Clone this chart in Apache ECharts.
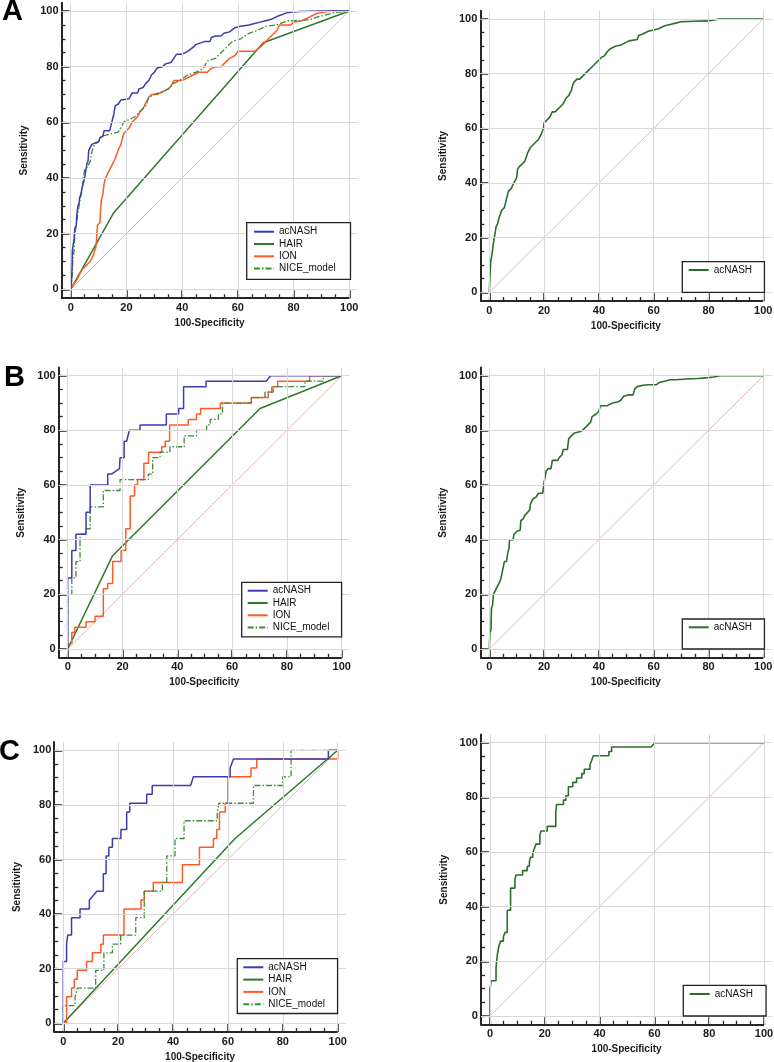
<!DOCTYPE html>
<html><head><meta charset="utf-8">
<script src="https://cdn.jsdelivr.net/npm/echarts@6/dist/echarts.min.js"></script>
<style>html,body{margin:0;padding:0;background:#fff}#c{width:774px;height:1062px}</style>
</head><body><div id="c"></div>
<script>
// ---------- data ----------
const tickValues = [0, 20, 40, 60, 80, 100];
const minorTickValues = [0,5,10,15,20,25,30,35,40,45,50,55,60,65,70,75,80,85,90,95,100];
const gridLineValues = [0, 20, 40, 60, 80, 100];
const leftLegendNames = ['acNASH', 'HAIR', 'ION', 'NICE_model'];
const rightLegendName = 'acNASH';
const panelLetters = ['A', 'B', 'C'];
const diagonal = [[0, 0], [100, 100]];

const A_L_acNASH = [[0,0],[0.3,3],[0.5,8],[0.6,14],[1,14],[1.2,18],[1.5,22],[2,23],[2.2,27],[2.6,30],[3,31],[3.2,33],[3.6,34],[4,36],[4.5,38],[5,40],[5.5,40],[5.8,45],[6.2,46],[6.5,50],[7,51],[7.5,52],[8.5,52.5],[9,53],[10,53],[10.5,54.5],[11.5,55],[12,57],[14,57],[14.5,59],[15,61],[15.5,63],[16,66],[17,66.5],[18,68],[21,68.5],[22,70.5],[24,70.5],[24.5,72],[26,72.5],[27,74],[28,75],[29,77],[30,78],[31,79.5],[33,80],[34,81],[36,81.5],[37,83],[38,84.5],[40,84.5],[42,85.5],[44,87],[45,88],[48,89],[50,89],[50.5,90.5],[52,91],[54,91],[55,92],[57,92.5],[59,94],[61,94.5],[64,95],[66,95.5],[68,96],[70,96.5],[72,97],[74,98],[78,99.5],[82,99.8],[90,100],[100,100]];
const A_L_HAIR = [[0,0],[15.3,27.3],[69.1,88.6],[100,100]];
const A_L_ION = [[0,0],[1,2],[2,3],[3,5],[4,7],[5,8],[6,9],[7,10],[8,12],[9,15],[9.3,18],[9.6,23],[10.5,24],[10.7,28],[11,32],[11.5,34],[12,38],[12.5,40],[13,41],[14,43],[15,45],[16,47],[17,50],[18,52],[19,56],[20,57],[21,58],[22,60],[24,62],[25,64],[26,65],[27,67],[28,69],[29,70],[31,70],[33,71],[35,72],[36,73],[37,75],[40,75],[42,76],[44,77],[46,78],[49,78],[50,79],[52,80],[54,80],[55,81],[57,83],[59,84],[60,85.5],[66,85.5],[68,87],[70,89],[71,90],[72,91],[74,93],[75,95],[79,95],[80,96],[83,96.5],[86,98],[88,99],[90,99.5],[94,100],[100,100]];
const A_L_NICE = [[0,0],[0.5,5],[0.8,11],[1.2,14],[1.5,20],[2,23],[2.5,27],[3,30],[3.5,33],[4,35],[4.5,40],[5,43],[6,44],[7,46],[7.5,49],[8.5,52],[10,53],[11,55],[13,55.5],[15,56],[17,56.5],[18,58],[19,60],[21,61],[23,62],[25,64],[27,66],[28,69],[30,70],[33,71],[35,72],[37,74],[39,75],[42,77],[45,78],[47,79],[48,80],[49,82],[52,83],[54,85],[56,87],[58,89],[61,90],[64,92],[67,93],[70,94.5],[74,95],[78,96.5],[82,96.5],[86,97],[89,98],[93,99],[95,99.5],[100,100]];

const A_R_acNASH = [[0,0],[0.2,5],[0.5,11],[1,14],[1.5,18],[2,21],[2.5,24],[3,25],[3.5,27],[4.5,30],[5.5,31],[6,33],[6.5,35],[7,37],[8,38],[9,40],[10,42],[10.3,45],[11,46],[12,47],[13,48],[14,51],[15,53],[16,54],[17,55],[18,56],[19,58],[19.8,60],[20,62],[21,63],[22,64],[23,66],[24,66],[25,67],[26,68],[27,69],[28,71],[29,72],[30,74],[30.5,76],[31,77],[32,78],[33,78],[34,79],[35,80],[36,81],[37,82],[38,83],[39,84],[40,85],[41,86],[42,86.5],[43,88],[44,89],[46,90],[48,90.5],[49,91],[51,92],[54,92.5],[54.5,94],[56,94.5],[58,95.5],[60,96],[62,96.5],[64,97.5],[66,98],[68,98.5],[70,99],[75,99.2],[80,99.3],[84,100],[100,100]];

const B_L_acNASH = [[0,0],[0,26],[1.5,26],[1.5,36],[3,36],[3,42],[6.7,42],[6.7,50],[8.2,50],[8.2,60],[14.6,60],[14.6,64],[16,64],[18.9,66],[19.1,66],[19.1,70],[20.6,70],[20.6,76],[21.5,76],[22.5,80],[26.4,80],[26.4,82],[36,82],[36,86],[40.5,86],[40.5,88],[42.3,88],[42.3,96],[50.5,96],[50.5,98],[72.5,98],[74,100],[100,100]];
const B_L_HAIR = [[0,0],[16.3,34],[70.2,88],[100,100]];
const B_L_ION = [[0,0],[0,2],[1.5,2],[1.5,6],[2.6,6],[2.6,8],[6.7,8],[6.7,10],[10,10],[10,12],[13,12],[13,22],[14.6,22],[14.6,24],[16.4,24],[16.4,32],[19.5,32],[19.5,36],[21.2,36],[21.2,44],[22.8,44],[22.8,56],[24.4,56],[24.4,60],[25.5,60],[25.5,62],[27.8,62],[27.8,68],[29.5,68],[29.5,72],[34.3,72],[34.3,74],[35.6,74],[35.6,76],[37.2,76],[37.2,82],[44,82],[44,84],[47,84],[47,86],[48.5,86],[48.5,88],[55.7,88],[55.7,90],[67,90],[67,92],[73.2,92],[73.2,94],[74.5,94],[74.5,96],[76.6,96],[76.6,98],[88.3,98],[88.3,100],[100,100]];
const B_L_NICE = [[0,0],[0,20],[1.5,20],[1.5,26],[3,26],[3,32],[4.5,32],[4.5,42],[6.7,42],[6.7,44],[8.2,44],[8.2,52],[13,52],[13,58],[19.1,58],[19.1,62],[29.4,62],[29.4,64],[31,64],[31,70],[33.7,70],[33.7,72],[37.3,72],[37.3,74],[42.5,74],[42.5,78],[47,78],[47,80],[50.7,80],[50.7,82],[52,82],[52,84],[55,84],[55,86],[56.5,86],[56.5,90],[67,90],[67,92],[72,92],[72,94],[75,94],[75,96],[86.6,96],[86.6,98],[93.3,98],[93.3,100],[100,100]];

const B_R_acNASH = [[0,0],[0.2,6],[0.6,7],[0.8,15],[1.2,16],[1.5,20],[2,21],[2.5,22],[3,23],[3.5,24],[4,25],[4.5,27],[5.2,27],[5.5,32],[6.3,32],[6.7,35],[7.2,37],[7.4,40],[8.7,40],[9,42],[10,43],[11.3,43.5],[11.5,47],[12.3,47.5],[13,49],[14,50],[14.8,51],[15,53],[16,55],[17,55.5],[18,57],[19.5,57],[20,61],[20.4,63],[20.7,65],[21.5,66],[22.5,66],[23,69],[25,69],[25.5,70],[26.5,71],[27,73],[28.5,73],[29,77],[30,78],[31,79],[33,79.5],[34,80],[35,81],[36,82],[37,83],[37.5,85],[39,86],[40,87],[40.5,89],[43,89],[44,89.5],[45,90],[47,90.5],[48,91],[49,92.5],[51,93],[52.5,93],[53,95],[54,96],[56,96.5],[58,96.7],[61,96.7],[62,97.5],[64,98],[66,98.5],[68,98.5],[72,98.8],[76,99],[80,99.3],[82,99.5],[84,100],[100,100]];

const C_L_acNASH = [[0,0],[0,22.6],[1.2,22.6],[1.2,29],[1.6,29],[1.6,32.3],[3,32.3],[3,38.7],[6.1,38.7],[6.1,41.9],[9.5,41.9],[9.5,45.2],[10.7,46.5],[12.2,48.4],[14.6,48.4],[14.6,54.8],[15.6,54.8],[15.6,61.3],[16.6,61.3],[16.6,64.5],[17.9,64.5],[17.9,67.7],[21,67.7],[21,71],[23.1,71],[23.1,77.4],[24.2,77.4],[24.2,80.6],[30.4,80.6],[30.4,83.9],[32.4,83.9],[32.4,87.1],[46.4,87.1],[47.4,90.3],[60.8,90.3],[60.8,93.5],[62,96.8],[96.6,96.8],[96.6,100],[100,100]];
const C_L_HAIR = [[0,0],[62.6,67.7],[100,100]];
const C_L_ION = [[0,0],[1.2,0],[1.2,9.7],[3,9.7],[3,12.9],[4,12.9],[4,16.1],[5.1,16.1],[5.1,19.4],[8.5,19.4],[8.5,22.6],[10.6,22.6],[10.6,25.8],[13.7,25.8],[13.7,29],[14.6,29],[14.6,32.3],[22.1,32.3],[22.1,41.9],[28.3,41.9],[28.3,45.2],[29.5,45.2],[29.5,48.4],[32.8,48.4],[32.8,51.6],[43.4,51.6],[43.4,58.1],[49.6,58.1],[49.6,64.5],[54.7,64.5],[54.7,67.7],[55.9,67.7],[55.9,71],[56.9,71],[56.9,77.4],[59,77.4],[59,80.6],[60,80.6],[60,90.3],[68.4,90.3],[68.4,93.5],[70.5,93.5],[70.5,96.8],[100,96.8],[100,100]];
const C_L_NICE = [[0,0],[0,6.5],[4.3,6.5],[4.3,9.7],[5.1,12.9],[11.8,12.9],[11.8,19.4],[14.8,19.4],[14.8,25.8],[17.9,25.8],[17.9,29],[20.9,29],[20.9,32.3],[26.4,32.3],[26.4,38.7],[29.5,38.7],[29.5,48.4],[36.1,48.4],[36.1,51.6],[37.7,51.6],[37.7,61.3],[40.7,61.3],[40.7,67.7],[44,67.7],[44,74.2],[56.1,74.2],[56.1,77.4],[56.7,80.6],[69.3,80.6],[69.3,87.1],[80,87.1],[80,90.3],[83,90.3],[83,100],[100,100]];

const C_R_acNASH = [[0,0],[0,9.7],[0.4,12.9],[2.2,12.9],[2.2,17.7],[2.7,17.7],[2.7,22.6],[3.3,22.6],[3.3,25.8],[3.9,25.8],[3.9,27.4],[4.9,27.4],[4.9,29],[5.5,29],[5.5,30.6],[6.3,30.6],[6.3,38.7],[7.5,38.7],[7.5,46.8],[9.1,46.8],[9.1,50],[9.5,51.6],[11.9,51.6],[11.9,53.2],[13.6,53.2],[13.6,54.8],[14.4,54.8],[14.4,56.5],[14.8,56.5],[14.8,58.1],[15.6,58.1],[15.6,59.7],[16.2,59.7],[16.2,61.3],[16.8,61.3],[16.8,62.9],[18.2,62.9],[18.2,66.1],[18.6,67.7],[20.9,67.7],[20.9,69.4],[24,69.4],[24,74.2],[24.3,77.4],[26.8,77.4],[26.8,79],[27.7,79],[27.7,80.6],[28.6,80.6],[28.6,83.9],[30.2,83.9],[30.2,85.5],[31.6,85.5],[31.6,87.1],[33.5,87.1],[33.5,88.7],[34.4,88.7],[34.4,90.3],[36.5,90.3],[36.5,91.9],[37.1,93.5],[37.7,95.2],[43.4,95.2],[43.4,96.8],[44.4,96.8],[44.4,98.4],[58.8,98.4],[60.2,100],[100,100]];

// ---------- styles / layout ----------
const FONT = 'Liberation Sans, Arial, sans-serif';
const AX = '#262626';
const GRIDC = '#d8d8d8';
const DIAG = '#e2b9b9';
const C_BLUE = '#3c3cae', C_HAIR = '#2b7a2b', C_ION = '#ff5a26', C_NICE = '#3a8c3a', C_RIGHT = '#2a6e2a';
const XMIN = -3.3, XMAX = 103, YMIN = -3.2, YMAX = 103;

const leftStyles = {
  acNASH: {color: C_BLUE, width: 1.5, type: 'solid'},
  HAIR: {color: C_HAIR, width: 1.5, type: 'solid'},
  ION: {color: C_ION, width: 1.5, type: 'solid'},
  NICE_model: {color: C_NICE, width: 1.3, type: [6, 2, 1.5, 2]}
};

const panels = [
  {x0:70.7, x100:349.3, y0:289.3, y100:11, side:'L', curves:{acNASH:A_L_acNASH, HAIR:A_L_HAIR, ION:A_L_ION, NICE_model:A_L_NICE}, lg:{left:246.7, top:222.7, padding:[4,14.8,5.7,6.3]}},
  {x0:489.3, x100:763.3, y0:292.3, y100:19, side:'R', curve:A_R_acNASH, lg:{left:682.3, top:261.7, padding:[3.3,12.4,17.3,5.4]}},
  {x0:67.7, x100:341.7, y0:649, y100:375.7, side:'L', curves:{acNASH:B_L_acNASH, HAIR:B_L_HAIR, ION:B_L_ION, NICE_model:B_L_NICE}, lg:{left:241.7, top:582.3, padding:[3.4,12.2,4.3,5]}},
  {x0:489.3, x100:763.3, y0:649, y100:375.7, side:'R', curve:B_R_acNASH, lg:{left:682.3, top:619, padding:[3.3,12.4,16.7,5.4]}},
  {x0:63.3, x100:337.7, y0:1023.3, y100:750.3, side:'L', curves:{acNASH:C_L_acNASH, HAIR:C_L_HAIR, ION:C_L_ION, NICE_model:C_L_NICE}, lg:{left:237.3, top:958.7, padding:[3.6,12.6,4.3,5]}},
  {x0:490, x100:764, y0:1016, y100:742.7, side:'R', curve:C_R_acNASH, lg:{left:683.3, top:985.3, padding:[3.7,13,17,5.4]}}
];

const grids = [], xAxes = [], yAxes = [], series = [], legends = [];
const labelStyle = {fontFamily: FONT, fontSize: 11, fontWeight: 'bold', color: '#1a1a1a'};
const nameStyle = {fontFamily: FONT, fontSize: 10, fontWeight: 'bold', color: '#1a1a1a'};
const RIGHT_NAME = 'acNASH_total';

panels.forEach((p, i) => {
  const sx = (p.x100 - p.x0) / 100, sy = (p.y0 - p.y100) / 100;
  grids.push({left: p.x0 + XMIN * sx, top: p.y100 - (YMAX - 100) * sy, width: (XMAX - XMIN) * sx, height: (YMAX - YMIN) * sy, containLabel: false, outerBoundsMode: 'none'});
  const cx = {type: 'value', gridIndex: i, min: XMIN, max: XMAX, position: 'bottom', splitLine: {show: false}, axisLine: {show: false, onZero: false}};
  const cy = {type: 'value', gridIndex: i, min: YMIN, max: YMAX, position: 'left', splitLine: {show: false}};
  xAxes.push(Object.assign({}, cx, {
    axisTick: {show: true, inside: true, length: 4, customValues: minorTickValues, lineStyle: {color: AX, width: 1.3}},
    axisLabel: {show: false}
  }));
  xAxes.push(Object.assign({}, cx, {
    axisTick: {show: true, inside: true, length: 8, customValues: tickValues, lineStyle: {color: AX, width: 1.5}},
    axisLabel: Object.assign({show: true, customValues: tickValues, margin: 4}, labelStyle),
    name: '100-Specificity', nameLocation: 'middle', nameGap: 20, nameTextStyle: nameStyle
  }));
  yAxes.push(Object.assign({}, cy, {
    axisLine: {show: false, onZero: false},
    axisTick: {show: true, inside: true, length: 4, customValues: minorTickValues, lineStyle: {color: AX, width: 1.3}},
    axisLabel: {show: false}
  }));
  yAxes.push(Object.assign({}, cy, {
    axisLine: {show: true, onZero: false, lineStyle: {color: AX, width: 2}},
    axisTick: {show: true, inside: true, length: 8, customValues: tickValues, lineStyle: {color: AX, width: 1.5}},
    axisLabel: Object.assign({show: true, customValues: tickValues, margin: 3}, labelStyle),
    name: 'Sensitivity', nameLocation: 'middle', nameGap: 32, nameTextStyle: nameStyle
  }));
  const xi = 2 * i + 1, yi = 2 * i + 1;
  // grid lines
  series.push({type: 'line', xAxisIndex: xi, yAxisIndex: yi, data: [[0, 0]], symbol: 'none', lineStyle: {width: 0}, silent: true, z: 1,
    markLine: {silent: true, symbol: 'none', animation: false, label: {show: false}, emphasis: {disabled: true},
      lineStyle: {type: 'solid', color: GRIDC, width: 1},
      data: gridLineValues.map(v => ({xAxis: v})).concat(gridLineValues.map(v => ({yAxis: v})))}});
  // x axis line (ends at 100)
  series.push({type: 'line', xAxisIndex: xi, yAxisIndex: yi, data: [[0, 0]], symbol: 'none', lineStyle: {width: 0}, silent: true, z: 6,
    markLine: {silent: true, symbol: 'none', animation: false, label: {show: false}, emphasis: {disabled: true},
      lineStyle: {type: 'solid', color: AX, width: 2},
      data: [[{coord: [XMIN, YMIN]}, {coord: [100, YMIN]}]]}});
  // diagonal
  series.push({type: 'line', xAxisIndex: xi, yAxisIndex: yi, data: diagonal, symbol: 'none', silent: true, z: 2,
    lineStyle: {color: DIAG, width: 1}});
  const lgBase = {orient: 'vertical', left: p.lg.left, top: p.lg.top, padding: p.lg.padding, itemWidth: 20, itemHeight: 10, itemGap: 2.3,
    borderColor: '#222', borderWidth: 1.3, backgroundColor: '#fff', selectedMode: false, z: 10,
    itemStyle: {opacity: 0},
    textStyle: {fontFamily: FONT, fontSize: 10, color: '#111'}};
  if (p.side === 'L') {
    const order = ['HAIR', 'ION', 'NICE_model', 'acNASH'];
    order.forEach(nm => {
      const st = leftStyles[nm];
      series.push({type: 'line', name: nm, xAxisIndex: xi, yAxisIndex: yi, data: p.curves[nm], symbol: 'none', z: 3,
        itemStyle: {color: st.color}, lineStyle: {color: st.color, width: st.width, type: st.type}});
    });
    legends.push(Object.assign({}, lgBase, {data: leftLegendNames}));
  } else {
    series.push({type: 'line', name: RIGHT_NAME, xAxisIndex: xi, yAxisIndex: yi, data: p.curve, symbol: 'none', z: 3,
      itemStyle: {color: C_RIGHT}, lineStyle: {color: C_RIGHT, width: 1.6}});
    legends.push(Object.assign({}, lgBase, {data: [RIGHT_NAME], formatter: () => rightLegendName}));
  }
});

const titles = [
  {text: panelLetters[0], left: 2, top: -3},
  {text: panelLetters[1], left: 4, top: 363},
  {text: panelLetters[2], left: -1, top: 737}
].map(t => Object.assign(t, {padding: 0, textStyle: {fontFamily: FONT, fontSize: 29, fontWeight: 'bold', color: '#000'}}));

const chart = echarts.init(document.getElementById('c'), null, {renderer: 'canvas'});
chart.setOption({
  animation: false,
  backgroundColor: '#fff',
  title: titles,
  grid: grids,
  xAxis: xAxes,
  yAxis: yAxes,
  legend: legends,
  series: series
});
</script></body></html>
